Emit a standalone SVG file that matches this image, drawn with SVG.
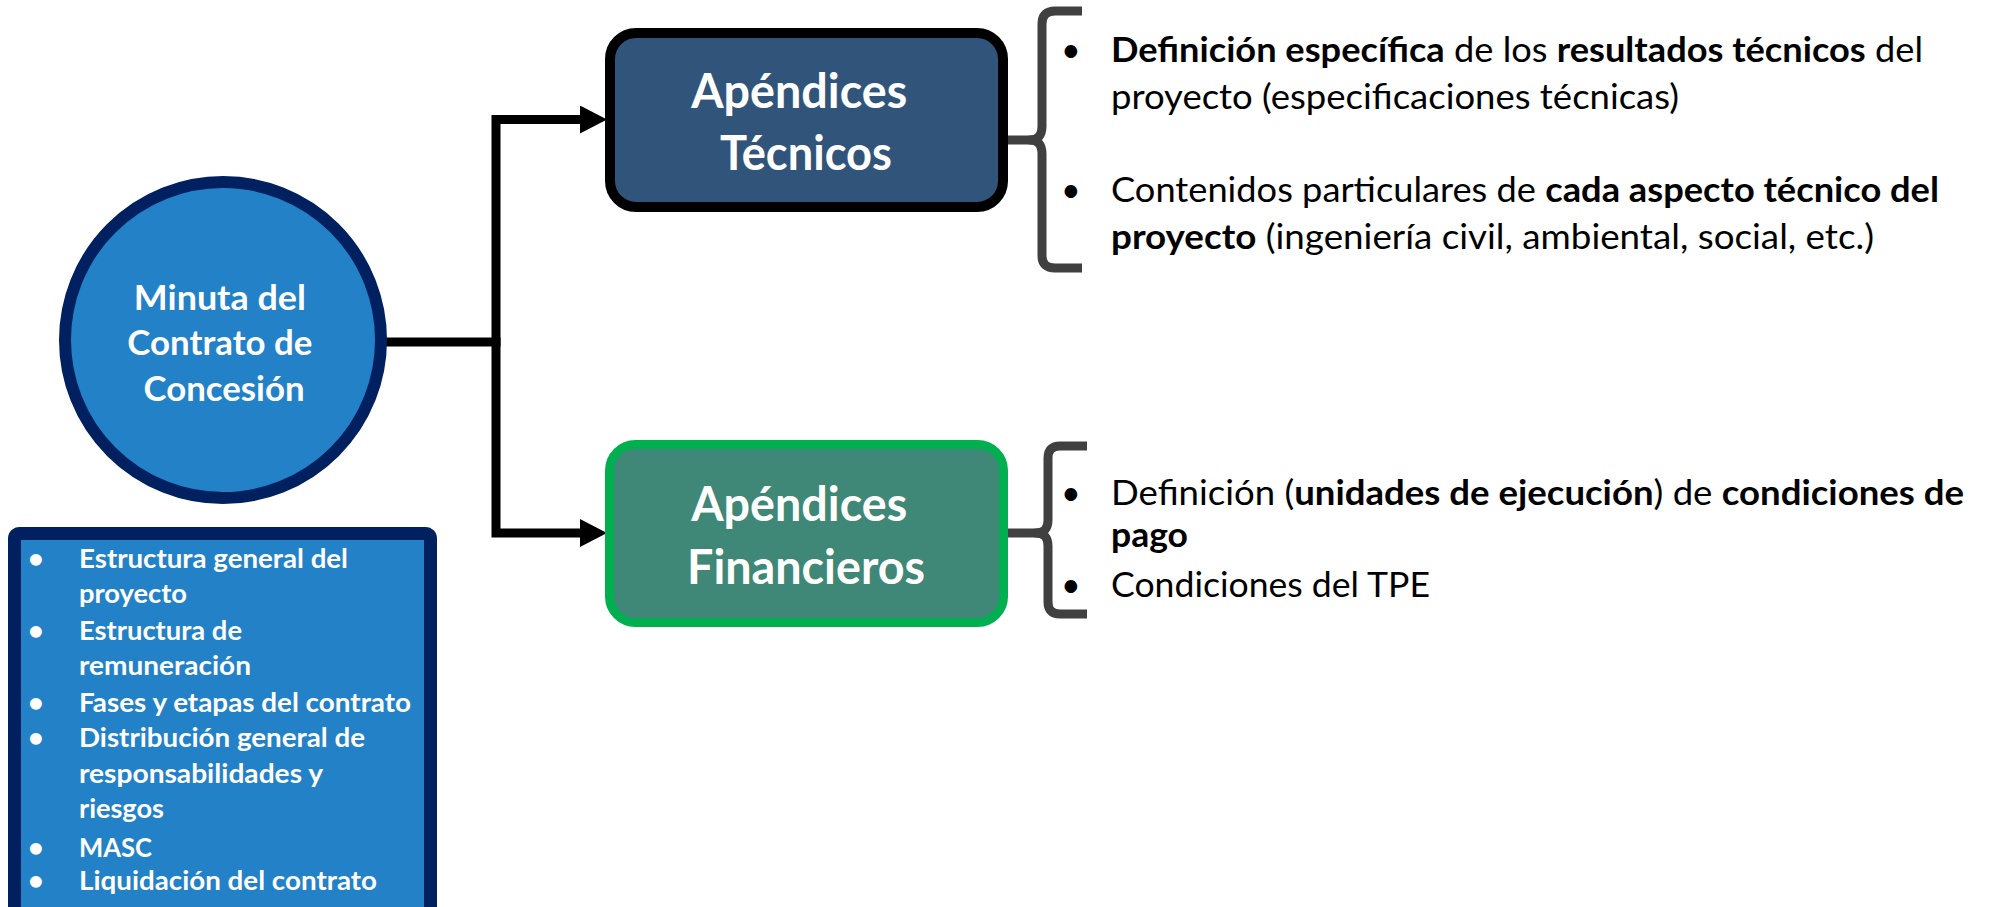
<svg xmlns="http://www.w3.org/2000/svg" width="1990" height="907" viewBox="0 0 1990 907">
<defs>
<style>
.wb{font-family:Lato,"Open Sans",sans-serif;font-weight:700;fill:#ffffff}
.bk{font-family:Lato,"Open Sans",sans-serif;fill:#000000;font-size:34px}
.b{font-weight:700}
.conn{fill:none;stroke:#000000;stroke-width:9;stroke-linejoin:miter}
.brace{fill:none;stroke:#404040;stroke-width:9;stroke-linejoin:round}
</style>
<marker id="arrow" markerUnits="userSpaceOnUse" markerWidth="30" markerHeight="30" refX="6" refY="14" orient="auto">
<path d="M0,0 L27,14 L0,28 z" fill="#000000"/>
</marker>
</defs>
<rect width="1990" height="907" fill="#ffffff"/>

<g id="connectors">
<path class="conn" d="M385,342 L500.5,342"/>
<path class="conn" d="M496,342 L496,119.5 L586,119.5" marker-end="url(#arrow)"/>
<path class="conn" d="M496,342 L496,533 L586,533" marker-end="url(#arrow)"/>
<path class="brace" d="M1008,140 L1034,140"/>
<path class="brace" d="M1082,11 L1055,11 Q1042,11 1042,24 L1042,126 Q1042,140 1030,140 Q1042,140 1042,154 L1042,256 Q1042,268 1055,268 L1082,268"/>
<path class="brace" d="M1008,533 L1040,533"/>
<path class="brace" d="M1087,446 L1060,446 Q1048,446 1048,458 L1048,520 Q1048,533 1036,533 Q1048,533 1048,546 L1048,602 Q1048,614 1060,614 L1087,614"/>
</g>

<g id="minuta">
<circle cx="223" cy="340" r="158" fill="#2381C8" stroke="#002060" stroke-width="12"/>
<text class="wb" font-size="34" text-anchor="middle">
<tspan x="224" y="310" textLength="172" lengthAdjust="spacingAndGlyphs">Minuta del</tspan>
<tspan x="224" y="355" textLength="185" lengthAdjust="spacingAndGlyphs">Contrato de</tspan>
<tspan x="224" y="401" textLength="161" lengthAdjust="spacingAndGlyphs">Concesión</tspan>
</text>
</g>

<g id="tecnicos">
<rect x="610" y="33" width="393" height="174" rx="26" fill="#31557A" stroke="#000000" stroke-width="10"/>
<text class="wb" font-size="48" text-anchor="middle">
<tspan x="805" y="108" textLength="216" lengthAdjust="spacingAndGlyphs">Apéndices</tspan>
<tspan x="806" y="170" textLength="172" lengthAdjust="spacingAndGlyphs">Técnicos</tspan>
</text>
</g>

<g id="financieros">
<rect x="609.5" y="444.5" width="394" height="178" rx="26" fill="#3F8776" stroke="#00B050" stroke-width="9"/>
<text class="wb" font-size="48" text-anchor="middle">
<tspan x="805" y="521" textLength="216" lengthAdjust="spacingAndGlyphs">Apéndices</tspan>
<tspan x="806" y="584" textLength="238" lengthAdjust="spacingAndGlyphs">Financieros</tspan>
</text>
</g>

<g id="contenido-minuta">
<rect x="14.5" y="533.5" width="416" height="400" rx="5" fill="#2381C8" stroke="#002060" stroke-width="13"/>
<g class="wb" font-size="27">
<text x="28" y="568">•</text>
<text x="79" y="568" textLength="269" lengthAdjust="spacingAndGlyphs">Estructura general del</text>
<text x="79" y="603" textLength="108" lengthAdjust="spacingAndGlyphs">proyecto</text>
<text x="28" y="640">•</text>
<text x="79" y="640" textLength="163" lengthAdjust="spacingAndGlyphs">Estructura de</text>
<text x="79" y="675" textLength="172" lengthAdjust="spacingAndGlyphs">remuneración</text>
<text x="28" y="712">•</text>
<text x="79" y="712" textLength="332" lengthAdjust="spacingAndGlyphs">Fases y etapas del contrato</text>
<text x="28" y="747">•</text>
<text x="79" y="747" textLength="286" lengthAdjust="spacingAndGlyphs">Distribución general de</text>
<text x="79" y="783" textLength="244" lengthAdjust="spacingAndGlyphs">responsabilidades y</text>
<text x="79" y="818" textLength="85" lengthAdjust="spacingAndGlyphs">riesgos</text>
<text x="28" y="857">•</text>
<text x="79" y="857" textLength="73" lengthAdjust="spacingAndGlyphs">MASC</text>
<text x="28" y="890">•</text>
<text x="79" y="890" textLength="298" lengthAdjust="spacingAndGlyphs">Liquidación del contrato</text>
</g>
</g>

<g id="detalle-tecnicos">
<text class="bk" x="1061" y="62">•</text>
<text class="bk" x="1111" y="62" textLength="812" lengthAdjust="spacingAndGlyphs"><tspan class="b">Definición específica</tspan> de los <tspan class="b">resultados técnicos</tspan> del</text>
<text class="bk" x="1111" y="109" textLength="568" lengthAdjust="spacingAndGlyphs">proyecto (especificaciones técnicas)</text>
<text class="bk" x="1061" y="202">•</text>
<text class="bk" x="1111" y="202" textLength="828" lengthAdjust="spacingAndGlyphs">Contenidos particulares de <tspan class="b">cada aspecto técnico del</tspan></text>
<text class="bk" x="1111" y="249" textLength="763" lengthAdjust="spacingAndGlyphs"><tspan class="b">proyecto</tspan> (ingeniería civil, ambiental, social, etc.)</text>
</g>

<g id="detalle-financieros">
<text class="bk" x="1061" y="505">•</text>
<text class="bk" x="1111" y="505" textLength="853" lengthAdjust="spacingAndGlyphs">Definición (<tspan class="b">unidades de ejecución</tspan>) de <tspan class="b">condiciones de</tspan></text>
<text class="bk b" x="1111" y="547" textLength="77" lengthAdjust="spacingAndGlyphs">pago</text>
<text class="bk" x="1061" y="597">•</text>
<text class="bk" x="1111" y="597" textLength="319" lengthAdjust="spacingAndGlyphs">Condiciones del TPE</text>
</g>
</svg>
